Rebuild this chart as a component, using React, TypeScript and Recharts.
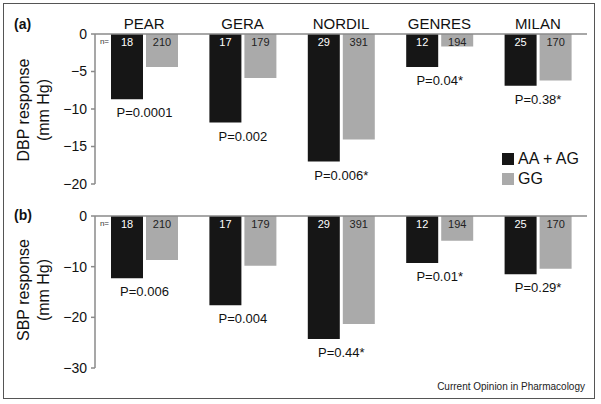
import React from 'react';
import { BarChart, Bar, XAxis, YAxis, Legend, LabelList } from 'recharts';

const categories = ['PEAR', 'GERA', 'NORDIL', 'GENRES', 'MILAN'];
const dbpCarrier = [-8.7, -11.8, -17.0, -4.4, -6.9];
const dbpGG = [-4.4, -5.85, -14.05, -1.65, -6.2];
const sbpCarrier = [-12.3, -17.6, -24.3, -9.3, -11.5];
const sbpGG = [-8.7, -9.8, -21.3, -4.9, -10.4];
const nCarrier = [18, 17, 29, 12, 25];
const nGG = [210, 179, 391, 194, 170];
const dbpP = ['P=0.0001', 'P=0.002', 'P=0.006*', 'P=0.04*', 'P=0.38*'];
const sbpP = ['P=0.006', 'P=0.004', 'P=0.44*', 'P=0.01*', 'P=0.29*'];
const dbpTicks = [0, -5, -10, -15, -20];
const sbpTicks = [0, -10, -20, -30];

const dbpData = categories.map((c, i) => ({ name: c, a: dbpCarrier[i], g: dbpGG[i], na: nCarrier[i], ng: nGG[i], p: dbpP[i] }));
const sbpData = categories.map((c, i) => ({ name: c, a: sbpCarrier[i], g: sbpGG[i], na: nCarrier[i], ng: nGG[i], p: sbpP[i] }));

const BLACK = '#161616';
const GRAY = '#aaaaaa';
const AXIS = '#8a8a8a';
const FONT = '"Liberation Sans", Arial, Helvetica, sans-serif';

function box(props: any) {
  const vb = props.viewBox || {};
  const x = props.x ?? vb.x;
  const y = props.y ?? vb.y;
  const w = props.width ?? vb.width;
  const h = props.height ?? vb.height;
  return { x: Number(x), y: Number(y), w: Number(w), h: Number(h) };
}

const makeCount = (color: string, withN: boolean) => (props: any) => {
  const { x, y, w, h } = box(props);
  const top = Math.min(y, y + h);
  return (
    <g>
      {withN && props.index === 0 ? (
        <text x={x - 2} y={top + 10} textAnchor="end" fontSize={8} fill="#333" fontFamily={FONT}>n=</text>
      ) : null}
      <text x={x + w / 2} y={top + 11.5} textAnchor="middle" fontSize={11} fill={color} fontFamily={FONT}>{props.value}</text>
    </g>
  );
};

const pLabel = (props: any) => {
  const { x, y, w, h } = box(props);
  const bottom = Math.max(y, y + h);
  return (
    <text x={x + w + 1.5} y={bottom + 18} textAnchor="middle" fontSize={13} fill="#111" fontFamily={FONT}>{props.value}</text>
  );
};

const minus = (v: number) => String(v).replace('-', '\u2212');

const yLabel = (title: string, cy: number) => () => (
  <g fontFamily={FONT} fontSize={16} fill="#111">
    <text x={23} y={cy} transform={`rotate(-90 23 ${cy})`} textAnchor="middle" dominantBaseline="central">{title}</text>
    <text x={43} y={cy} transform={`rotate(-90 43 ${cy})`} textAnchor="middle" dominantBaseline="central">(mm Hg)</text>
  </g>
);

const legendContent = (props: any) => {
  const items = props.payload || [];
  return (
    <div style={{ fontFamily: FONT, fontSize: 16, color: '#111' }}>
      {items.map((it: any) => (
        <div key={it.value} style={{ display: 'flex', alignItems: 'center', height: 20 }}>
          <span style={{ display: 'inline-block', width: 12, height: 12, background: it.color, marginRight: 4 }} />
          <span>{it.value}</span>
        </div>
      ))}
    </div>
  );
};

function Panel({ data, ticks, domain, title, tag, top, height, marginTop, marginBottom, showCats, showLegend, pLabelCy }: any) {
  return (
    <div style={{ position: 'absolute', left: 0, top, width: 601, height }}>
      <BarChart
        width={601}
        height={height}
        data={data}
        margin={{ top: marginTop, right: 14, bottom: marginBottom, left: 35 }}
        barSize={32}
        barGap={3}
      >
        <XAxis
          dataKey="name"
          orientation="top"
          height={showCats ? 30 : 10}
          axisLine={{ stroke: AXIS, strokeWidth: 1.5 }}
          tickLine={false}
          tickSize={0}
          tickMargin={5}
          tick={showCats ? { fill: '#111', fontSize: 15, fontFamily: FONT } : false}
          interval={0}
        />
        <YAxis
          type="number"
          domain={domain}
          ticks={ticks}
          width={60}
          allowDataOverflow
          axisLine={{ stroke: AXIS, strokeWidth: 1.5 }}
          tickLine={{ stroke: AXIS, strokeWidth: 1.5 }}
          tickSize={4}
          tickMargin={4}
          tick={{ fill: '#111', fontSize: 14, fontFamily: FONT }}
          tickFormatter={minus}
          label={{ content: yLabel(title, pLabelCy) }}
        />
        {showLegend ? (
          <Legend
            layout="vertical"
            align="center"
            verticalAlign="middle"
            content={legendContent}
            wrapperStyle={{ left: 502, top: 149, width: 'auto' }}
          />
        ) : null}
        <Bar dataKey="a" name="AA + AG" fill={BLACK} isAnimationActive={false}>
          <LabelList dataKey="na" content={makeCount('#ffffff', true)} />
          <LabelList dataKey="p" content={pLabel} />
        </Bar>
        <Bar dataKey="g" name="GG" fill={GRAY} isAnimationActive={false}>
          <LabelList dataKey="ng" content={makeCount('#222222', false)} />
        </Bar>
      </BarChart>
      <div style={{ position: 'absolute', left: 14, top: showCats ? 16 : 7, fontFamily: FONT, fontSize: 14, fontWeight: 'bold', color: '#111' }}>{tag}</div>
    </div>
  );
}

export default function App() {
  return (
    <div style={{ position: 'absolute', left: 0, top: 0, width: 601, height: 404, background: '#fff', overflow: 'hidden' }}>
      <div style={{ position: 'absolute', left: 3, top: 3, width: 590, height: 394, border: '1.5px solid #555' }} />
      <Panel
        data={dbpData}
        ticks={dbpTicks}
        domain={[-20, 0]}
        title="DBP response"
        tag="(a)"
        top={0}
        height={200}
        marginTop={4}
        marginBottom={16}
        showCats
        showLegend
        pLabelCy={110}
      />
      <Panel
        data={sbpData}
        ticks={sbpTicks}
        domain={[-30, 0]}
        title="SBP response"
        tag="(b)"
        top={200}
        height={204}
        marginTop={6}
        marginBottom={36}
        showCats={false}
        showLegend={false}
        pLabelCy={90}
      />
      <div style={{ position: 'absolute', right: 16, top: 381, fontFamily: FONT, fontSize: 10, color: '#222' }}>Current Opinion in Pharmacology</div>
    </div>
  );
}
